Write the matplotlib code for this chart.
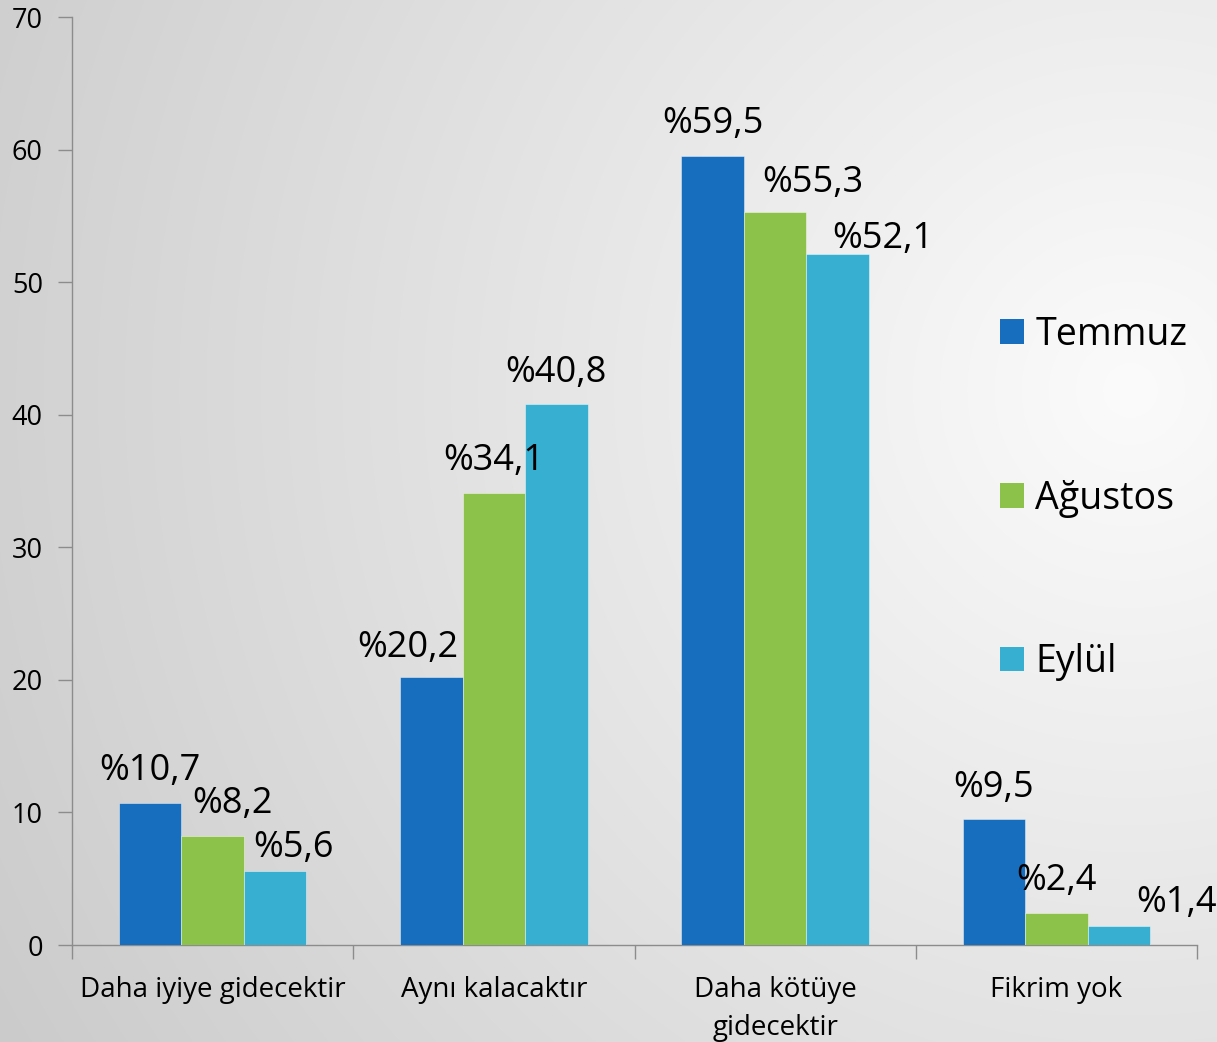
import numpy as np
import matplotlib
matplotlib.use("Agg")
import matplotlib.pyplot as plt
from matplotlib.patches import Patch

# ---- data ----
categories = ["Daha iyiye gidecektir", "Aynı kalacaktır", "Daha kötüye\ngidecektir", "Fikrim yok"]
series_names = ["Temmuz", "Ağustos", "Eylül"]
temmuz = [10.7, 20.2, 59.5, 9.5]
agustos = [8.2, 34.1, 55.3, 2.4]
eylul = [5.6, 40.8, 52.1, 1.4]
y_ticks = [0, 10, 20, 30, 40, 50, 60, 70]

# ---- style / layout ----
colors = ["#176EBF", "#8CC24A", "#36AFD0"]
# label offsets (pixels) relative to bar top-center, per series then per category
label_offsets = [
    [(0, 23), (-24, 20), (0, 23), (0, 22)],
    [(20, 23), (0, 23), (38, 20), (0, 23)],
    [(18, 14), (0, 22), (45, 6), (58, 14)],
]

plt.rcParams['font.family'] = ['Open Sans', 'DejaVu Sans']

W, H = 1217, 1042
fig = plt.figure(figsize=(W / 100, H / 100), dpi=100)

# background radial gradient
bg = fig.add_axes([0, 0, 1, 1], zorder=-10)
yy, xx = np.mgrid[0:H, 0:W]
d = np.sqrt((xx - 1130) ** 2 + (yy - 390) ** 2)
c = np.clip(251 - 46 * (d / 1250), 195, 255) / 255.0
bg.imshow(np.dstack([c, c, c]), extent=[0, W, H, 0], aspect='auto')
bg.axis('off')

ax = fig.add_axes([72 / W, 1 - 945 / H, (1197 - 72) / W, (945 - 17) / H])
ax.patch.set_alpha(0)

x = np.arange(len(categories))
bw = 0.222
all_series = [temmuz, agustos, eylul]
for i, (vals, name, col) in enumerate(zip(all_series, series_names, colors)):
    xs = x + (i - 1) * bw
    ax.bar(xs, vals, width=bw, color=col, edgecolor=(1, 1, 1, 0.5), linewidth=0.6, label=name, zorder=3)
    for j, v in enumerate(vals):
        dx, dy = label_offsets[i][j]
        ax.annotate(("%" + f"{v:.1f}").replace(".", ","), xy=(xs[j], v),
                    xytext=(dx, dy), textcoords='offset pixels',
                    ha='center', va='baseline', fontsize=26, color='black', zorder=5)

ax.set_xlim(-0.5, len(categories) - 0.5)
ax.set_ylim(0, 70)
ax.set_yticks(y_ticks)
ax.set_yticklabels([str(t) for t in y_ticks])

ax.set_xticks(np.arange(len(categories) + 1) - 0.5)
ax.set_xticklabels([])
ax.set_xticks(x, minor=True)
ax.set_xticklabels(categories, minor=True, fontsize=20, linespacing=1.5)
ax.tick_params(axis='x', which='minor', length=0, pad=22)
ax.tick_params(axis='x', which='major', length=10, width=1, color='#8C8C8C', direction='out')
ax.tick_params(axis='y', length=10, width=1, color='#8C8C8C', direction='out', pad=11, labelsize=19.5)

for s in ['top', 'right']:
    ax.spines[s].set_visible(False)
for s in ['left', 'bottom']:
    ax.spines[s].set_color('#8C8C8C')
    ax.spines[s].set_linewidth(1)

handles = [Patch(facecolor=c_, edgecolor='none') for c_ in colors]
fig.legend(handles, series_names, loc='upper left',
           bbox_to_anchor=(1000 / W, 1 - 316 / H), frameon=False,
           fontsize=27, handlelength=0.64, handleheight=0.64,
           handletextpad=0.3, labelspacing=3.35, borderpad=0, borderaxespad=0)

fig.savefig("out.png", dpi=100)
